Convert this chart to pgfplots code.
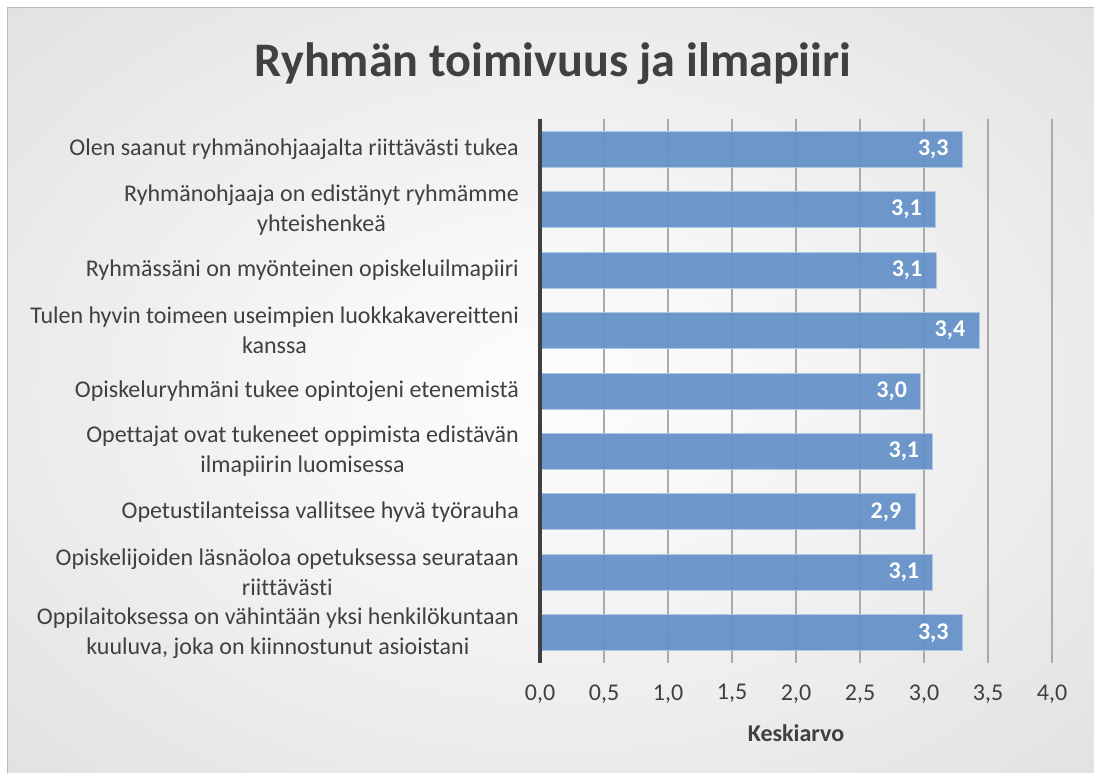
\documentclass[border=0pt]{standalone}
\usepackage{pgfplots}
\pgfplotsset{compat=1.18}
\usepackage{fontspec}
\setmainfont{Carlito}[Ligatures={TeX,NoCommon}]
\definecolor{txt}{RGB}{64,64,64}
\definecolor{barblue}{RGB}{100,145,200}
\definecolor{gridc}{RGB}{170,170,170}
\pgfdeclareradialshading{bgshade}{\pgfpoint{0bp}{0bp}}{rgb(0bp)=(0.99,0.99,0.99); rgb(8bp)=(0.975,0.975,0.975); rgb(71bp)=(0.77,0.77,0.77)}
\pgfplotstableread{
y val
0 3.30
1 3.09
2 3.095
3 3.43
4 2.975
5 3.07
6 2.93
7 3.07
8 3.30
}\datatable
\begin{document}
\begin{tikzpicture}
\useasboundingbox (0pt,0pt) rectangle (1094pt,-773pt);
\fill[white] (0pt,0pt) rectangle (1094pt,-773pt);
\shade[shading=bgshade] (7pt,-8pt) rectangle (1094pt,-773pt);
\draw[line width=1pt, color={rgb,255:red,185;green,185;blue,185}] (7pt,-773pt) -- (7pt,-8pt) -- (1094pt,-8pt);
\node[anchor=base, text=txt, font=\bfseries\fontsize{48.2}{56}\selectfont] at (553pt,-77pt) {Ryhmän toimivuus ja ilmapiiri};
\begin{axis}[
  at={(540pt,-663pt)}, anchor=south west,
  scale only axis, width=512pt, height=544pt,
  xmin=0, xmax=4, ymin=-0.5, ymax=8.5,
  y dir=reverse,
  xtick={0,0.5,...,4},
  ytick={0,...,8},
  yticklabels={
    Olen saanut ryhmänohjaajalta riittävästi tukea,
    {Ryhmänohjaaja on edistänyt ryhmämme\\yhteishenkeä},
    Ryhmässäni on myönteinen opiskeluilmapiiri,
    {Tulen hyvin toimeen useimpien luokkakavereitteni\\kanssa},
    Opiskeluryhmäni tukee opintojeni etenemistä,
    {Opettajat ovat tukeneet oppimista edistävän\\ilmapiirin luomisessa},
    Opetustilanteissa vallitsee hyvä työrauha,
    {Opiskelijoiden läsnäoloa opetuksessa seurataan\\riittävästi},
    {Oppilaitoksessa on vähintään yksi henkilökuntaan\\kuuluva, joka on kiinnostunut asioistani}},
  axis line style={draw=none},
  major tick length=0pt,
  xmajorgrids,
  grid style={color=gridc, line width=1.2pt},
  yticklabel style={align=center, font=\fontsize{24}{30}\selectfont, text=txt, inner sep=0pt, xshift=-21pt},
  xticklabel style={font=\fontsize{24}{28}\selectfont, text=txt, yshift=-18pt},
  /pgf/number format/use comma,
  /pgf/number format/fixed,
  /pgf/number format/fixed zerofill,
  /pgf/number format/precision=1,
  /pgf/number format/assume math mode=true,
  xlabel={Keskiarvo},
  xlabel style={font=\bfseries\fontsize{24}{28}\selectfont, text=txt, yshift=-15pt},
  clip=false,
]
\addplot[xbar, bar width=36pt, fill=barblue, fill opacity=0.93, draw={rgb,255:red,175;green,200;blue,228}, line width=1pt,
  nodes near coords,
  every node near coord/.append style={anchor=east, xshift=-10pt, text=white, text opacity=1, font=\bfseries\fontsize{24}{28}\selectfont}]
  table[x=val, y=y] {\datatable};
\draw[line width=4pt, color=txt] (rel axis cs:0,0) -- (rel axis cs:0,1);
\end{axis}
\end{tikzpicture}
\end{document}
